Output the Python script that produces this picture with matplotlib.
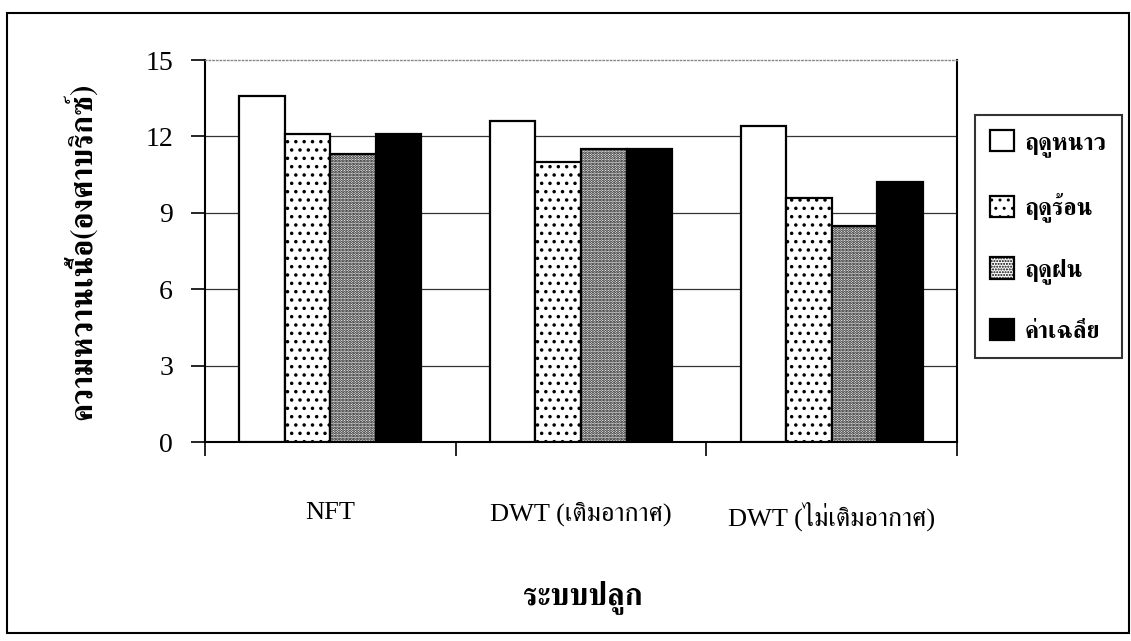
import numpy as np
import matplotlib
matplotlib.use("Agg")
import matplotlib.pyplot as plt
import matplotlib.patches as mpatches

# data
systems = ["NFT", "DWT (เติมอากาศ)", "DWT (ไม่เติมอากาศ)"]
seasons = ["ฤดูหนาว", "ฤดูร้อน", "ฤดูฝน", "ค่าเฉลี่ย"]
winter  = [13.6, 12.6, 12.4]
summer  = [12.1, 11.0, 9.6]
rainy   = [11.3, 11.5, 8.5]
average = [12.1, 11.5, 10.2]
yticks  = [0, 3, 6, 9, 12, 15]

series = [winter, summer, rainy, average]
faces  = ["white", "white", "white", "black"]
hatches = [None, "..", "......", None]
hatch_lw = [1.0, 1.3, 1.4, 1.0]

THAI_B = ["FreeSerif"]
SERIF  = ["Liberation Serif", "FreeSerif"]

fig = plt.figure(figsize=(11.31, 6.41), dpi=100)
fig.patch.set_facecolor("white")
ax = fig.add_axes([205/1131, 1 - 442/641, (957-205)/1131, (442-60)/641])

x = np.arange(len(systems))
w = 1 / 5.5
for i, (vals, fc, h, name) in enumerate(zip(series, faces, hatches, seasons)):
    with plt.rc_context({"hatch.linewidth": hatch_lw[i]}):
        bars = ax.bar(x + (i - 1.5) * w, vals, w, facecolor=fc, edgecolor="black",
                      hatch=h, linewidth=1.6, label=name, zorder=3)
        for b in bars:
            if hasattr(b, "set_hatch_linewidth"):
                b.set_hatch_linewidth(hatch_lw[i])

ax.set_xlim(-0.5, len(systems) - 0.5)
ax.set_ylim(0, 15)
ax.set_yticks(yticks)
ax.set_yticklabels([str(t) for t in yticks], family=SERIF, fontsize=20)
ax.tick_params(axis="y", direction="out", length=10, width=1.2, pad=13)

# category boundaries as major ticks, labels on minor ticks
ax.set_xticks(np.arange(-0.5, len(systems), 1.0))
ax.set_xticklabels([])
ax.set_xticks(x, minor=True)
ax.set_xticklabels(systems, minor=True, family=SERIF, fontsize=19)
ax.tick_params(axis="x", which="major", direction="out", length=10, width=1.2)
ax.tick_params(axis="x", which="minor", length=0, pad=43)

ax.yaxis.grid(True, color="#333333", linewidth=0.9, zorder=0)
ax.set_axisbelow(True)
ax.get_ygridlines()[-1].set_visible(False)
for s in ["left", "bottom", "right"]:
    ax.spines[s].set_linewidth(1.5)
ax.spines["top"].set_linestyle(":")
ax.spines["top"].set_color("#888888")
ax.spines["top"].set_linewidth(1.0)

fig.text(80/1131, 1 - 251/641, "ความหวานเนื้อ(องศาบริกซ์)", rotation=90,
         ha="center", va="center", family=THAI_B, fontweight="bold", fontsize=22)
fig.text(583/1131, 1 - 597/641, "ระบบปลูก", ha="center", va="center",
         family=THAI_B, fontweight="bold", fontsize=22)

leg = fig.legend(loc="upper left", bbox_to_anchor=(975/1131, 1 - 115/641),
                 borderaxespad=0, fancybox=False, frameon=True,
                 prop={"family": THAI_B, "weight": "bold", "size": 17},
                 handlelength=1.0, handleheight=1.0, handletextpad=0.45,
                 labelspacing=1.5, borderpad=0.65)
leg.get_frame().set_edgecolor("black")
leg.get_frame().set_linewidth(1.5)

# outer chart frame
fig.patches.append(mpatches.Rectangle((7/1131, 8/641), (1129-7)/1131, (633-13)/641,
                                      transform=fig.transFigure, fill=False,
                                      edgecolor="black", linewidth=1.5))

fig.savefig("out.png", dpi=100, facecolor="white")
